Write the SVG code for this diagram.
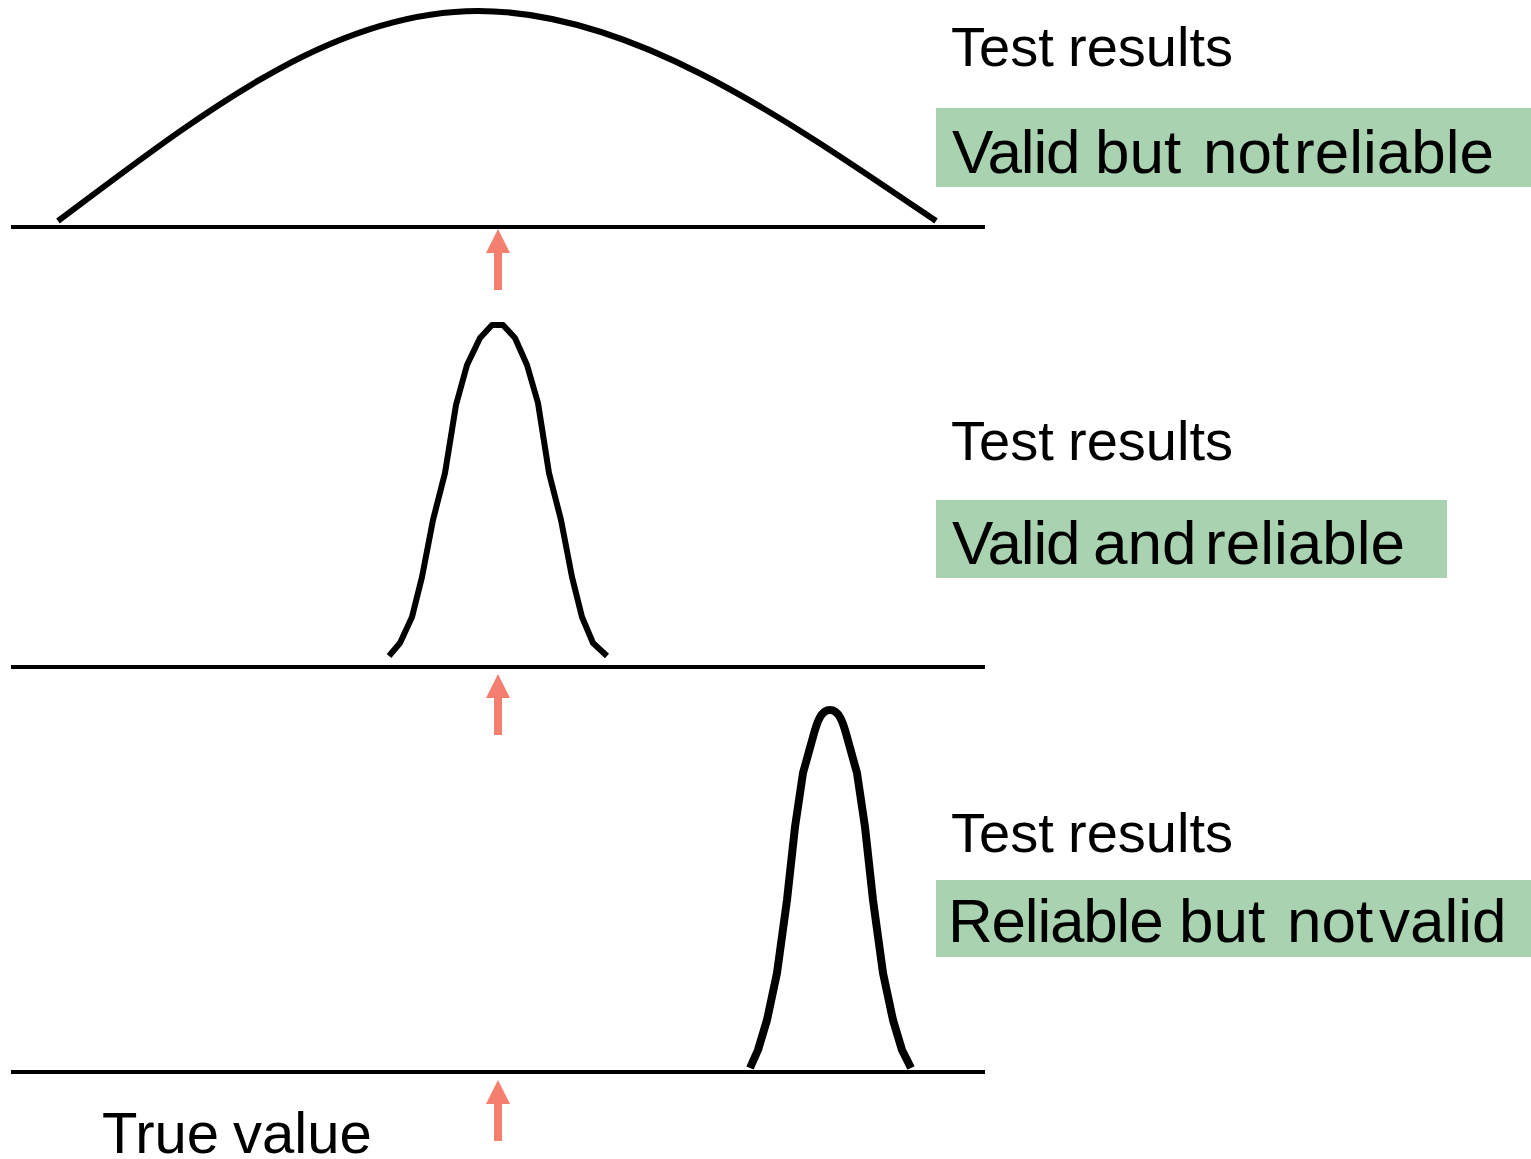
<svg xmlns="http://www.w3.org/2000/svg" width="1531" height="1159" viewBox="0 0 1531 1159">
<style>
.axis{stroke:#000;stroke-width:4;fill:none}
.curve{stroke:#000;fill:none;stroke-linejoin:round}
.lbl{font-family:"Liberation Sans",Arial,sans-serif;fill:#000}
.hd{font-size:56px}
.bx{font-size:62px}
.tight{letter-spacing:-1.2px}
.box{fill:#A9D3B0}
.ptr{stroke:#F47F6E;stroke-width:8;fill:none}
</style>
<defs>
<marker id="ah" markerUnits="userSpaceOnUse" viewBox="0 0 24 24" refX="0" refY="12" markerWidth="24" markerHeight="24" orient="auto">
<path d="M0,0 L24,12 L0,24 Z" fill="#F47F6E"/>
</marker>
</defs>
<rect width="1531" height="1159" fill="#fff"/>

<g id="axes">
<line class="axis" x1="11" y1="227" x2="985" y2="227"/>
<line class="axis" x1="11" y1="667" x2="985" y2="667"/>
<line class="axis" x1="11" y1="1072" x2="985" y2="1072"/>
</g>

<g id="curve-wide">
<path class="curve" stroke-width="6" d="M58,221 C200,115 330,11 478,11 C630,11 780,115 936,221"/>
</g>
<g id="curve-narrow-centered">
<polyline class="curve" stroke-width="6" points="389,656 400,643 412,617 422,577 433,520 445,473 456,405 467,365 480,338 492,325 503,325 515,338 527,365 538,403 549,473 561,520 572,577 582,617 593,643 607,656"/>
</g>
<g id="curve-narrow-offset">
<path class="curve" stroke-width="8" d="M750,1068 L758,1050 L767,1020 L777,973 L787,900 L795,827 L803,773 L813,737 C817,722 821,710 830,710 C839,710 843,722 847,737 L857,773 L865,827 L873,900 L883,973 L893,1020 L902,1050 L911,1068"/>
</g>

<g id="label-1">
<text class="lbl hd" x="951" y="66"><tspan x="951">Test</tspan><tspan x="1068">results</tspan></text>
<rect class="box" x="936" y="108" width="595" height="79"/>
<text class="lbl bx" x="952" y="173"><tspan x="952" class="tight">Valid</tspan><tspan x="1095">but</tspan><tspan x="1203">not</tspan><tspan x="1294">reliable</tspan></text>
</g>
<g id="label-2">
<text class="lbl hd" x="951" y="460"><tspan x="951">Test</tspan><tspan x="1068">results</tspan></text>
<rect class="box" x="936" y="500" width="511" height="78"/>
<text class="lbl bx" x="952" y="564"><tspan x="952" class="tight">Valid</tspan><tspan x="1093">and</tspan><tspan x="1205">reliable</tspan></text>
</g>
<g id="label-3">
<text class="lbl hd" x="951" y="852"><tspan x="951">Test</tspan><tspan x="1068">results</tspan></text>
<rect class="box" x="936" y="880" width="595" height="77"/>
<text class="lbl bx" x="948" y="942"><tspan x="948" class="tight">Reliable</tspan><tspan x="1179">but</tspan><tspan x="1287">not</tspan><tspan x="1379">valid</tspan></text>
</g>
<g id="true-value">
<text class="lbl" x="102" y="1153" font-size="58"><tspan x="102">True</tspan><tspan x="233">value</tspan></text>
</g>

<g id="connectors">
<line class="ptr" x1="498" y1="290" x2="498" y2="253" marker-end="url(#ah)"/>
<line class="ptr" x1="498" y1="735" x2="498" y2="698" marker-end="url(#ah)"/>
<line class="ptr" x1="498" y1="1141" x2="498" y2="1104" marker-end="url(#ah)"/>
</g>
</svg>
